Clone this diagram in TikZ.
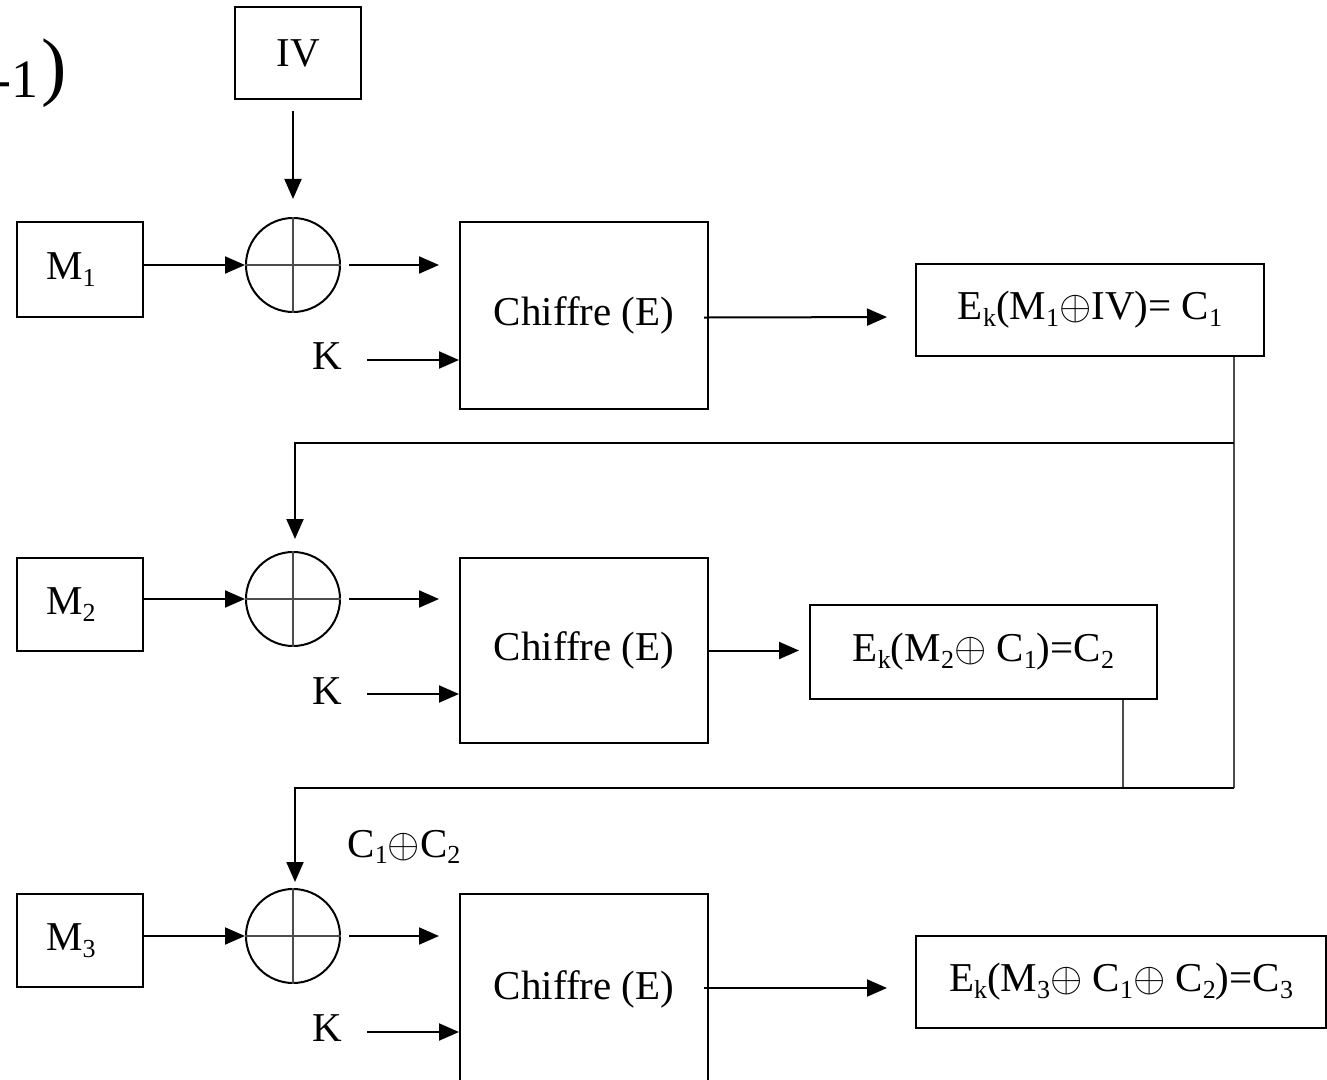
\documentclass[tikz,border=0pt]{standalone}
\usepackage{fontspec}
\setmainfont{Liberation Serif}
\usetikzlibrary{arrows.meta,calc}

% lowered small index, as in E_k, M_1, C_2
\newcommand\lo[1]{\raisebox{-0.35ex}{\fontsize{13}{13}\selectfont #1}}
% invisible padding after the message labels
\newcommand\padr{\rule{9pt}{0pt}}

\begin{document}
\begin{tikzpicture}[x=0.5pt,y=-0.5pt,
  every node/.style={font=\fontsize{20.5}{24}\selectfont},
  box/.style={draw, line width=1pt, inner sep=0pt},
  mbox/.style={box, minimum width=63pt, minimum height=46.5pt},
  ebox/.style={box, minimum width=124pt},
  xorc/.style={draw, circle, line width=1pt, minimum size=47pt, inner sep=0pt},
  conn/.style={line width=1pt, -{Triangle[length=10pt,width=8.5pt]}},
  wire/.style={line width=1pt, black!70},
  lbl/.style={inner sep=0pt},
]
\useasboundingbox (0,0) rectangle (1327,1080);
\clip (0,0) rectangle (1327,1080);

% heading fragment in the corner
\node[lbl, anchor=base east, font=\fontsize{27}{27}\selectfont] (pre) at (39,98) {-1};
\node[lbl, anchor=base west, font=\fontsize{38}{38}\selectfont] (paren) at (41,92) {)};

% ---------- block 1 ----------
\node[box, minimum width=63pt, minimum height=46pt] (iv) at (298,53) {IV};
\node[xorc] (x1) at (293,265) {};
\draw[wire] (x1.north) -- (x1.south) (x1.west) -- (x1.east);
\node[mbox, minimum height=47.5pt] (m1) at (80,269.5) {M\lo{1}\padr};
\node[ebox, minimum height=93.5pt] (e1) at (584,315.5) {Chiffre (E)};
\node[lbl] (k1) at (327,356) {K};
\node[box, minimum width=174pt, minimum height=46pt] (c1) at (1090,310) {E\lo{k}(M\lo{1}$\oplus$IV)= C\lo{1}};

\draw[conn, shorten <=5.5pt, shorten >=9pt] (x1.north |- iv.south) -- (x1.north);
\draw[conn] (m1.east |- x1.west) -- (x1.west);
\draw[conn, shorten <=4pt, shorten >=10pt] (x1.east) -- (x1.east -| e1.west);
\draw[conn, shorten <=12.5pt] (k1.east) ++(0,4) -- (e1.west |- 0,360);
\draw[conn, shorten <=-2.5pt, shorten >=14pt] (e1.east) ++(0,2) -- (c1.west |- 0,317);

% ---------- block 2 ----------
\node[xorc] (x2) at (293,599) {};
\draw[wire] (x2.north) -- (x2.south) (x2.west) -- (x2.east);
\node[mbox] (m2) at (80,604.5) {M\lo{2}\padr};
\node[ebox, minimum height=92.5pt] (e2) at (584,650.5) {Chiffre (E)};
\node[lbl] (k2) at (327,691) {K};
\node[box, minimum width=173.5pt, minimum height=47pt] (c2) at (983.5,652) {E\lo{k}(M\lo{2}$\oplus$ C\lo{1})=C\lo{2}};

\draw[conn] (m2.east |- x2.west) -- (x2.west);
\draw[conn, shorten <=4pt, shorten >=10pt] (x2.east) -- (x2.east -| e2.west);
\draw[conn, shorten <=12.5pt] (k2.east) ++(0,3) -- (e2.west |- 0,694);
\draw[conn, shorten >=5pt] (e2.east) -- (e2.east -| c2.west);

% ---------- block 3 ----------
\node[xorc] (x3) at (293,936) {};
\draw[wire] (x3.north) -- (x3.south) (x3.west) -- (x3.east);
\node[mbox] (m3) at (80,940.5) {M\lo{3}\padr};
\node[ebox, minimum height=95pt] (e3) at (584,989) {Chiffre (E)};
\node[lbl] (k3) at (327,1028) {K};
\node[box, minimum width=205pt, minimum height=46pt] (c3) at (1121,982) {E\lo{k}(M\lo{3}$\oplus$ C\lo{1}$\oplus$ C\lo{2})=C\lo{3}};

\draw[conn] (m3.east |- x3.west) -- (x3.west);
\draw[conn, shorten <=4pt, shorten >=10pt] (x3.east) -- (x3.east -| e3.west);
\draw[conn, shorten <=12.5pt] (k3.east) ++(0,4) -- (e3.west |- 0,1032);
\draw[conn, shorten <=-2.5pt, shorten >=14pt] (e3.west -| e3.east) ++(0,-1) -- (c3.west |- 0,988);

% ---------- chaining of the cipher blocks ----------
\coordinate (j1) at (1234,443);
\coordinate (j2) at (1234,788);
\coordinate (j3) at (1123,788);
\coordinate (t1) at (295,443);
\coordinate (t2) at (295,788);

\draw[wire] (c1.south -| j1) -- (j2);
\draw[wire] (c2.south -| j3) -- (j3);
\draw[conn, shorten >=6pt] (j1) -- (t1) -- (t1 |- x2.north);
\draw[conn, shorten >=3pt] (j2) -- (t2) -- (t2 |- x3.north);

\node[lbl] (sum) at (404,847) {C\lo{1}$\oplus$C\lo{2}};
\end{tikzpicture}
\end{document}
